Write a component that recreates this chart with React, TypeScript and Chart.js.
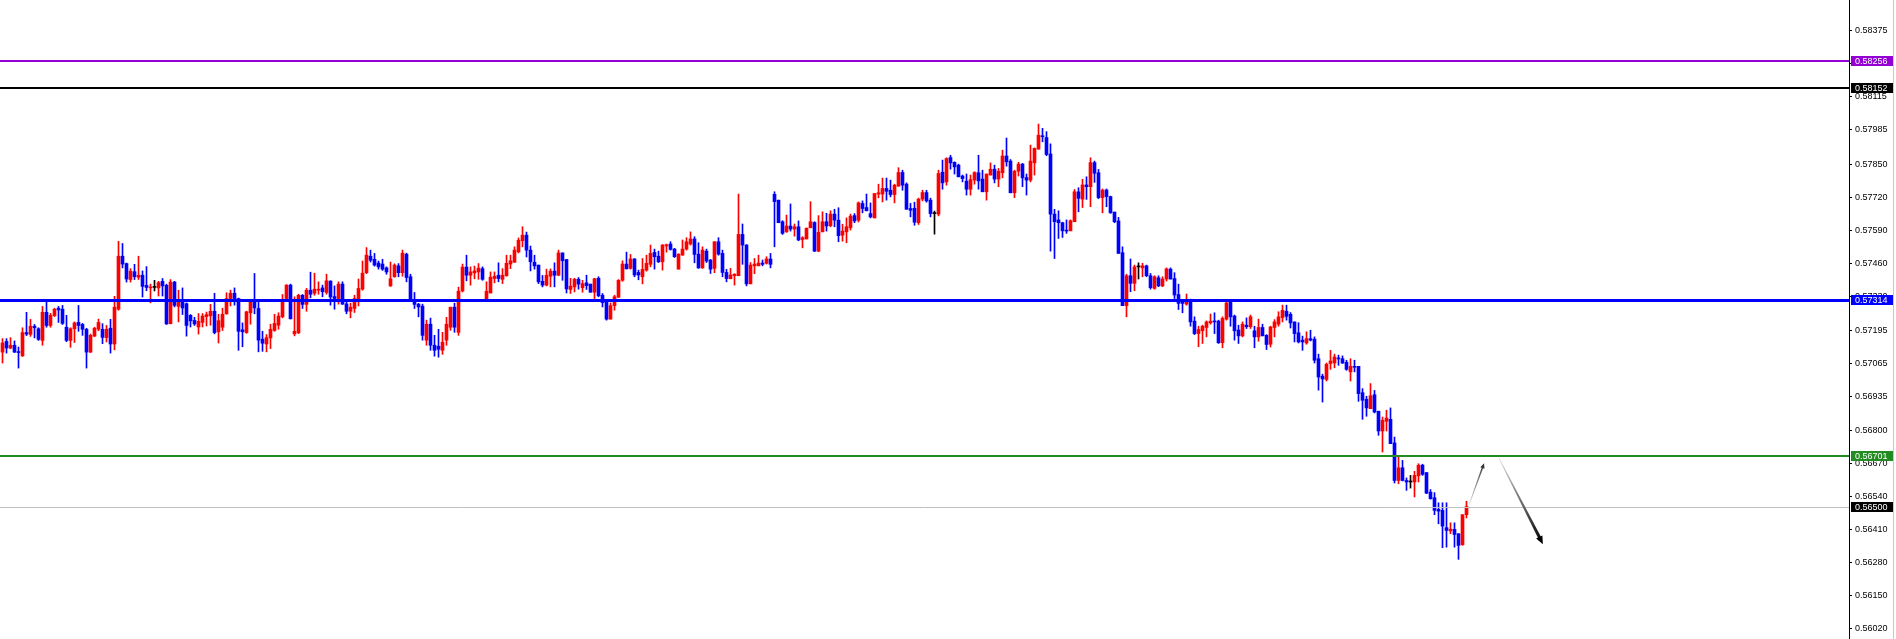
import { useEffect, useRef } from 'react';
import { Chart, registerables } from 'chart.js';

Chart.register(...registerables);

// ---- candle data (price values) ----
const opens = [
  0.57109,0.57151,0.57125,0.57136,0.57111,0.57094,0.57186,0.57179,0.57211,0.57201,
  0.57155,0.57266,0.57214,0.57253,0.57282,0.57278,0.57207,0.57155,0.57201,0.57226,
  0.57218,0.57199,0.57109,0.57172,0.57199,0.57199,0.57166,0.57203,0.57141,0.57278,
  0.57487,0.57458,0.57395,0.57426,0.57404,0.57412,0.57372,0.57362,0.57364,0.57362,
  0.57388,0.57372,0.57221,0.57385,0.57289,0.57307,0.57300,0.57254,0.57234,0.57208,
  0.57226,0.57249,0.57252,0.57270,0.57189,0.57207,0.57260,0.57320,0.57341,0.57320,
  0.57197,0.57186,0.57264,0.57310,0.57281,0.57160,0.57141,0.57165,0.57194,0.57215,
  0.57248,0.57320,0.57373,0.57181,0.57185,0.57333,0.57297,0.57353,0.57341,0.57353,
  0.57362,0.57344,0.57389,0.57328,0.57320,0.57377,0.57299,0.57270,0.57281,0.57318,
  0.57357,0.57422,0.57487,0.57475,0.57460,0.57456,0.57441,0.57370,0.57406,0.57449,
  0.57422,0.57495,0.57406,0.57314,0.57298,0.57290,0.57156,0.57219,0.57136,0.57132,
  0.57116,0.57156,0.57207,0.57286,0.57187,0.57350,0.57444,0.57412,0.57421,0.57425,
  0.57438,0.57319,0.57342,0.57399,0.57412,0.57396,0.57410,0.57456,0.57463,0.57504,
  0.57548,0.57570,0.57511,0.57463,0.57452,0.57388,0.57373,0.57408,0.57428,0.57412,
  0.57500,0.57474,0.57356,0.57366,0.57396,0.57363,0.57382,0.57377,0.57345,0.57400,
  0.57333,0.57307,0.57239,0.57292,0.57325,0.57392,0.57456,0.57439,0.57476,0.57423,
  0.57406,0.57432,0.57455,0.57502,0.57487,0.57465,0.57527,0.57535,0.57515,0.57436,
  0.57491,0.57515,0.57535,0.57555,0.57495,0.57441,0.57507,0.57472,0.57439,0.57544,
  0.57498,0.57423,0.57398,0.57410,0.57410,0.57573,0.57531,0.57378,0.57449,0.57449,
  0.57460,0.57459,0.57476,0.57731,0.57708,0.57623,0.57583,0.57606,0.57594,0.57603,
  0.57553,0.57555,0.57599,0.57620,0.57507,0.57583,0.57623,0.57607,0.57653,0.57629,
  0.57570,0.57583,0.57599,0.57647,0.57629,0.57695,0.57679,0.57655,0.57638,0.57732,
  0.57732,0.57754,0.57747,0.57730,0.57763,0.57817,0.57771,0.57675,0.57676,0.57619,
  0.57712,0.57738,0.57708,0.57655,0.57653,0.57818,0.57780,0.57876,0.57857,0.57846,
  0.57803,0.57783,0.57751,0.57787,0.57816,0.57791,0.57741,0.57807,0.57830,0.57791,
  0.57816,0.57882,0.57862,0.57737,0.57822,0.57850,0.57797,0.57787,0.57855,0.57909,
  0.57962,0.57955,0.57890,0.57653,0.57630,0.57619,0.57590,0.57587,0.57623,0.57741,
  0.57712,0.57768,0.57761,0.57856,0.57816,0.57718,0.57748,0.57722,0.57661,0.57626,
  0.57501,0.57292,0.57410,0.57380,0.57445,0.57441,0.57449,0.57410,0.57360,0.57402,
  0.57370,0.57397,0.57436,0.57399,0.57336,0.57307,0.57298,0.57314,0.57231,0.57182,
  0.57193,0.57206,0.57224,0.57231,0.57231,0.57146,0.57239,0.57307,0.57251,0.57196,
  0.57173,0.57215,0.57209,0.57193,0.57169,0.57206,0.57175,0.57140,0.57206,0.57219,
  0.57245,0.57270,0.57258,0.57228,0.57185,0.57156,0.57145,0.57162,0.57160,0.57083,
  0.57014,0.57001,0.57064,0.57066,0.57086,0.57083,0.57069,0.57031,0.57053,0.57053,
  0.56949,0.56923,0.56886,0.56941,0.56876,0.56798,0.56836,0.56844,0.56751,0.56603,
  0.56653,0.56603,0.56597,0.56597,0.56621,0.56663,0.56634,0.56557,0.56535,0.56489,
  0.56485,0.56417,0.56404,0.56410,0.56393,0.56350,0.56468,
];

const highs = [
  0.57162,0.57162,0.57166,0.57153,0.57129,0.57205,0.57266,0.57238,0.57218,0.57205,
  0.57289,0.57309,0.57262,0.57282,0.57289,0.57293,0.57254,0.57205,0.57228,0.57293,
  0.57222,0.57203,0.57180,0.57207,0.57239,0.57221,0.57214,0.57238,0.57329,0.57546,
  0.57537,0.57460,0.57438,0.57455,0.57487,0.57429,0.57446,0.57377,0.57392,0.57388,
  0.57399,0.57377,0.57395,0.57388,0.57353,0.57362,0.57303,0.57257,0.57246,0.57261,
  0.57261,0.57267,0.57297,0.57341,0.57258,0.57282,0.57343,0.57353,0.57362,0.57322,
  0.57224,0.57270,0.57314,0.57419,0.57314,0.57191,0.57178,0.57219,0.57258,0.57264,
  0.57336,0.57375,0.57377,0.57327,0.57337,0.57336,0.57360,0.57424,0.57420,0.57386,
  0.57373,0.57416,0.57390,0.57370,0.57386,0.57386,0.57307,0.57302,0.57333,0.57397,
  0.57468,0.57521,0.57511,0.57498,0.57468,0.57475,0.57445,0.57464,0.57457,0.57458,
  0.57511,0.57499,0.57416,0.57344,0.57301,0.57298,0.57235,0.57243,0.57175,0.57199,
  0.57187,0.57246,0.57286,0.57302,0.57365,0.57456,0.57491,0.57445,0.57448,0.57458,
  0.57445,0.57386,0.57425,0.57425,0.57461,0.57438,0.57491,0.57491,0.57524,0.57559,
  0.57603,0.57582,0.57527,0.57491,0.57452,0.57411,0.57436,0.57437,0.57461,0.57511,
  0.57500,0.57474,0.57400,0.57400,0.57403,0.57392,0.57412,0.57377,0.57400,0.57406,
  0.57340,0.57310,0.57303,0.57333,0.57395,0.57469,0.57503,0.57494,0.57478,0.57432,
  0.57478,0.57491,0.57531,0.57515,0.57507,0.57533,0.57535,0.57544,0.57518,0.57497,
  0.57551,0.57560,0.57583,0.57564,0.57540,0.57524,0.57515,0.57474,0.57544,0.57560,
  0.57511,0.57435,0.57439,0.57418,0.57732,0.57614,0.57533,0.57462,0.57478,0.57491,
  0.57472,0.57485,0.57498,0.57741,0.57708,0.57627,0.57649,0.57693,0.57614,0.57626,
  0.57564,0.57599,0.57702,0.57623,0.57647,0.57662,0.57656,0.57666,0.57672,0.57678,
  0.57613,0.57638,0.57653,0.57655,0.57701,0.57705,0.57732,0.57697,0.57734,0.57771,
  0.57795,0.57795,0.57787,0.57771,0.57836,0.57826,0.57776,0.57695,0.57700,0.57716,
  0.57747,0.57747,0.57716,0.57665,0.57826,0.57866,0.57875,0.57885,0.57859,0.57850,
  0.57807,0.57811,0.57807,0.57820,0.57885,0.57826,0.57811,0.57855,0.57846,0.57833,
  0.57905,0.57953,0.57868,0.57826,0.57857,0.57853,0.57811,0.57925,0.57914,0.58008,
  0.57991,0.57978,0.57930,0.57672,0.57666,0.57621,0.57630,0.57630,0.57750,0.57757,
  0.57790,0.57800,0.57875,0.57862,0.57829,0.57752,0.57752,0.57724,0.57661,0.57640,
  0.57524,0.57416,0.57476,0.57452,0.57461,0.57459,0.57452,0.57419,0.57410,0.57410,
  0.57406,0.57441,0.57441,0.57422,0.57377,0.57314,0.57338,0.57318,0.57248,0.57211,
  0.57215,0.57232,0.57259,0.57264,0.57235,0.57248,0.57311,0.57314,0.57255,0.57215,
  0.57228,0.57244,0.57255,0.57211,0.57239,0.57219,0.57178,0.57211,0.57237,0.57268,
  0.57294,0.57294,0.57265,0.57228,0.57225,0.57172,0.57189,0.57195,0.57169,0.57101,
  0.57022,0.57066,0.57116,0.57101,0.57097,0.57094,0.57077,0.57083,0.57077,0.57053,
  0.56965,0.56935,0.56985,0.56958,0.56876,0.56853,0.56880,0.56889,0.56774,0.56699,
  0.56682,0.56613,0.56623,0.56639,0.56669,0.56667,0.56634,0.56567,0.56555,0.56515,
  0.56515,0.56515,0.56436,0.56436,0.56393,0.56468,0.56521,
];

const lows = [
  0.57066,0.57105,0.57122,0.57107,0.57046,0.57092,0.57174,0.57171,0.57165,0.57155,
  0.57136,0.57207,0.57207,0.57249,0.57226,0.57218,0.57150,0.57128,0.57147,0.57191,
  0.57175,0.57046,0.57107,0.57170,0.57193,0.57142,0.57149,0.57105,0.57118,0.57274,
  0.57441,0.57385,0.57385,0.57395,0.57395,0.57326,0.57351,0.57303,0.57350,0.57330,
  0.57330,0.57218,0.57220,0.57287,0.57228,0.57257,0.57172,0.57208,0.57214,0.57180,
  0.57208,0.57212,0.57215,0.57181,0.57145,0.57194,0.57258,0.57291,0.57294,0.57116,
  0.57130,0.57183,0.57219,0.57260,0.57110,0.57112,0.57110,0.57123,0.57191,0.57199,
  0.57244,0.57318,0.57240,0.57173,0.57182,0.57281,0.57270,0.57323,0.57333,0.57337,
  0.57327,0.57337,0.57294,0.57278,0.57298,0.57297,0.57260,0.57244,0.57265,0.57291,
  0.57353,0.57418,0.57464,0.57448,0.57436,0.57431,0.57416,0.57368,0.57404,0.57406,
  0.57408,0.57386,0.57310,0.57281,0.57248,0.57156,0.57136,0.57116,0.57093,0.57089,
  0.57100,0.57136,0.57195,0.57187,0.57175,0.57346,0.57390,0.57373,0.57398,0.57396,
  0.57392,0.57319,0.57342,0.57382,0.57386,0.57379,0.57408,0.57438,0.57463,0.57500,
  0.57524,0.57484,0.57429,0.57436,0.57379,0.57366,0.57370,0.57366,0.57366,0.57410,
  0.57392,0.57342,0.57340,0.57346,0.57357,0.57345,0.57356,0.57345,0.57320,0.57327,
  0.57287,0.57235,0.57239,0.57274,0.57325,0.57388,0.57437,0.57436,0.57406,0.57394,
  0.57378,0.57428,0.57445,0.57436,0.57462,0.57432,0.57503,0.57511,0.57482,0.57436,
  0.57491,0.57511,0.57531,0.57461,0.57439,0.57439,0.57462,0.57419,0.57422,0.57491,
  0.57406,0.57386,0.57398,0.57373,0.57410,0.57455,0.57370,0.57378,0.57418,0.57449,
  0.57449,0.57456,0.57441,0.57524,0.57619,0.57573,0.57581,0.57586,0.57566,0.57548,
  0.57520,0.57555,0.57599,0.57505,0.57505,0.57583,0.57586,0.57603,0.57603,0.57544,
  0.57546,0.57540,0.57590,0.57619,0.57622,0.57658,0.57666,0.57638,0.57638,0.57717,
  0.57701,0.57708,0.57721,0.57697,0.57763,0.57747,0.57672,0.57642,0.57609,0.57612,
  0.57705,0.57700,0.57642,0.57574,0.57646,0.57751,0.57767,0.57830,0.57811,0.57800,
  0.57780,0.57728,0.57728,0.57771,0.57751,0.57741,0.57708,0.57807,0.57776,0.57761,
  0.57796,0.57842,0.57737,0.57718,0.57803,0.57761,0.57728,0.57780,0.57807,0.57909,
  0.57938,0.57883,0.57507,0.57478,0.57557,0.57561,0.57577,0.57587,0.57623,0.57662,
  0.57679,0.57711,0.57682,0.57778,0.57714,0.57658,0.57682,0.57656,0.57619,0.57498,
  0.57292,0.57248,0.57347,0.57351,0.57397,0.57406,0.57406,0.57357,0.57357,0.57367,
  0.57367,0.57389,0.57397,0.57320,0.57277,0.57264,0.57294,0.57211,0.57178,0.57130,
  0.57143,0.57169,0.57219,0.57182,0.57143,0.57126,0.57235,0.57211,0.57156,0.57143,
  0.57169,0.57202,0.57202,0.57126,0.57152,0.57173,0.57119,0.57129,0.57169,0.57211,
  0.57228,0.57235,0.57204,0.57149,0.57145,0.57116,0.57140,0.57153,0.57066,0.56959,
  0.56912,0.56995,0.57041,0.57047,0.57057,0.57064,0.57037,0.56995,0.57031,0.56915,
  0.56844,0.56856,0.56886,0.56869,0.56781,0.56715,0.56798,0.56748,0.56593,0.56590,
  0.56601,0.56564,0.56573,0.56538,0.56597,0.56623,0.56551,0.56529,0.56468,0.56432,
  0.56338,0.56340,0.56393,0.56340,0.56292,0.56347,0.56455,
];

const closes = [
  0.57145,0.57125,0.57136,0.57109,0.57107,0.57186,0.57180,0.57211,0.57205,0.57159,
  0.57266,0.57214,0.57254,0.57278,0.57275,0.57222,0.57155,0.57201,0.57224,0.57214,
  0.57199,0.57109,0.57175,0.57203,0.57226,0.57167,0.57199,0.57141,0.57286,0.57487,
  0.57456,0.57397,0.57428,0.57406,0.57412,0.57368,0.57364,0.57366,0.57364,0.57383,
  0.57370,0.57220,0.57385,0.57293,0.57307,0.57283,0.57214,0.57232,0.57220,0.57230,
  0.57251,0.57257,0.57270,0.57186,0.57233,0.57258,0.57320,0.57341,0.57320,0.57191,
  0.57189,0.57268,0.57311,0.57283,0.57156,0.57144,0.57166,0.57199,0.57222,0.57251,
  0.57314,0.57373,0.57240,0.57191,0.57333,0.57297,0.57353,0.57337,0.57357,0.57357,
  0.57347,0.57390,0.57326,0.57320,0.57377,0.57298,0.57270,0.57286,0.57320,0.57360,
  0.57420,0.57491,0.57471,0.57452,0.57445,0.57436,0.57425,0.57398,0.57452,0.57422,
  0.57499,0.57403,0.57312,0.57297,0.57287,0.57175,0.57219,0.57136,0.57116,0.57120,
  0.57148,0.57219,0.57286,0.57207,0.57349,0.57444,0.57412,0.57425,0.57429,0.57440,
  0.57396,0.57349,0.57404,0.57408,0.57399,0.57412,0.57459,0.57469,0.57511,0.57550,
  0.57570,0.57511,0.57465,0.57449,0.57386,0.57373,0.57412,0.57428,0.57412,0.57500,
  0.57469,0.57358,0.57369,0.57396,0.57377,0.57379,0.57371,0.57345,0.57398,0.57331,
  0.57304,0.57239,0.57292,0.57327,0.57392,0.57456,0.57437,0.57476,0.57413,0.57413,
  0.57435,0.57459,0.57498,0.57485,0.57465,0.57531,0.57532,0.57514,0.57485,0.57495,
  0.57515,0.57544,0.57555,0.57494,0.57441,0.57511,0.57468,0.57436,0.57544,0.57495,
  0.57423,0.57399,0.57413,0.57416,0.57573,0.57531,0.57378,0.57452,0.57456,0.57460,
  0.57455,0.57476,0.57455,0.57702,0.57619,0.57577,0.57606,0.57594,0.57603,0.57551,
  0.57560,0.57597,0.57623,0.57507,0.57581,0.57623,0.57606,0.57653,0.57629,0.57568,
  0.57586,0.57603,0.57645,0.57626,0.57697,0.57675,0.57666,0.57642,0.57734,0.57737,
  0.57754,0.57743,0.57730,0.57767,0.57817,0.57767,0.57672,0.57668,0.57621,0.57712,
  0.57738,0.57705,0.57655,0.57655,0.57813,0.57776,0.57872,0.57855,0.57839,0.57800,
  0.57793,0.57751,0.57789,0.57817,0.57784,0.57741,0.57811,0.57830,0.57791,0.57822,
  0.57882,0.57859,0.57737,0.57822,0.57850,0.57796,0.57787,0.57862,0.57912,0.57964,
  0.57958,0.57888,0.57653,0.57623,0.57619,0.57587,0.57586,0.57627,0.57741,0.57715,
  0.57768,0.57761,0.57856,0.57814,0.57718,0.57748,0.57722,0.57658,0.57623,0.57498,
  0.57292,0.57410,0.57380,0.57445,0.57445,0.57449,0.57410,0.57363,0.57406,0.57370,
  0.57397,0.57437,0.57397,0.57334,0.57301,0.57301,0.57314,0.57228,0.57182,0.57198,
  0.57211,0.57228,0.57231,0.57228,0.57146,0.57242,0.57303,0.57248,0.57193,0.57173,
  0.57219,0.57209,0.57248,0.57169,0.57206,0.57173,0.57139,0.57208,0.57228,0.57248,
  0.57274,0.57250,0.57224,0.57182,0.57149,0.57149,0.57162,0.57156,0.57077,0.57011,
  0.57003,0.57061,0.57074,0.57090,0.57082,0.57066,0.57041,0.57053,0.57049,0.56945,
  0.56919,0.56889,0.56937,0.56873,0.56798,0.56840,0.56849,0.56748,0.56603,0.56653,
  0.56603,0.56597,0.56597,0.56623,0.56663,0.56627,0.56553,0.56531,0.56485,0.56482,
  0.56423,0.56406,0.56411,0.56390,0.56347,0.56468,0.56500,
];

// ---- axis ticks, horizontal levels, arrows ----
const yTickValues = [
  0.58375, 0.58245, 0.58115, 0.57985, 0.5785, 0.5772, 0.5759, 0.5746, 0.5733, 0.57195,
  0.57065, 0.56935, 0.568, 0.5667, 0.5654, 0.5641, 0.5628, 0.5615, 0.5602,
];
const levelValues = [0.58256, 0.58152, 0.57314, 0.56701, 0.565];
const levelLineColors = ['#9400D3', '#000000', '#0000FF', '#228B22', '#C0C0C0'];
const levelLineWidths = [2, 2, 3, 2, 1];
const levelLabelColors = ['#9400D3', '#000000', '#0000FF', '#228B22', '#000000'];

const arrowUpX = [366.6, 370.4];
const arrowUpY = [0.56506, 0.56671];
const arrowDownX = [374.1, 385.1];
const arrowDownY = [0.56691, 0.56352];

const Y_MIN = 0.55978;
const Y_MAX = 0.58497;
const X_MIN = -0.625;
const X_MAX = 461.625;
const AXIS_W = 47;

const candleColor = (i: number) =>
  closes[i] > opens[i] ? '#FF0000' : closes[i] < opens[i] ? '#0000FF' : '#000000';

function drawArrow(
  chart: any, xs: number[], ys: number[],
  c0: string, c1: string, w0: number, w1: number, headLen: number, headHalf: number
) {
  const { ctx, scales } = chart;
  const x0 = scales.x.getPixelForValue(xs[0]);
  const y0 = scales.y.getPixelForValue(ys[0]);
  const x1 = scales.x.getPixelForValue(xs[1]);
  const y1 = scales.y.getPixelForValue(ys[1]);
  const len = Math.hypot(x1 - x0, y1 - y0);
  const ux = (x1 - x0) / len;
  const uy = (y1 - y0) / len;
  const nx = -uy;
  const ny = ux;
  const g = ctx.createLinearGradient(x0, y0, x1, y1);
  g.addColorStop(0, c0);
  g.addColorStop(1, c1);
  // shaft (tapered)
  const bx = x1 - ux * headLen * 0.6;
  const by = y1 - uy * headLen * 0.6;
  ctx.fillStyle = g;
  ctx.beginPath();
  ctx.moveTo(x0 + nx * w0 / 2, y0 + ny * w0 / 2);
  ctx.lineTo(bx + nx * w1 / 2, by + ny * w1 / 2);
  ctx.lineTo(bx - nx * w1 / 2, by - ny * w1 / 2);
  ctx.lineTo(x0 - nx * w0 / 2, y0 - ny * w0 / 2);
  ctx.closePath();
  ctx.fill();
  // head
  const hx = x1 - ux * headLen;
  const hy = y1 - uy * headLen;
  ctx.fillStyle = c1;
  ctx.beginPath();
  ctx.moveTo(x1, y1);
  ctx.lineTo(hx + nx * headHalf, hy + ny * headHalf);
  ctx.lineTo(hx - nx * headHalf, hy - ny * headHalf);
  ctx.closePath();
  ctx.fill();
}

const levelsPlugin = {
  id: 'levels',
  afterDatasetsDraw(chart: any) {
    const { ctx, chartArea, scales } = chart;
    const y = scales.y;
    ctx.save();
    levelValues.forEach((v, k) => {
      const w = levelLineWidths[k];
      const py = Math.round(y.getPixelForValue(v)) + (w % 2 ? 0.5 : 0);
      ctx.strokeStyle = levelLineColors[k];
      ctx.lineWidth = w;
      ctx.beginPath();
      ctx.moveTo(chartArea.left, py);
      ctx.lineTo(chartArea.right, py);
      ctx.stroke();
    });
    drawArrow(chart, arrowUpX, arrowUpY, '#E6E6E6', '#333333', 0.8, 1.6, 5, 2.2);
    drawArrow(chart, arrowDownX, arrowDownY, '#DDDDDD', '#000000', 0.8, 3.2, 8, 3.5);
    ctx.restore();
  },
  afterDraw(chart: any) {
    const { ctx, chartArea, scales, width } = chart;
    const y = scales.y;
    ctx.save();
    ctx.font = '9px "Liberation Sans", Arial, sans-serif';
    ctx.textBaseline = 'middle';
    ctx.textAlign = 'left';
    levelValues.forEach((v, k) => {
      const py = Math.round(y.getPixelForValue(v));
      ctx.fillStyle = levelLabelColors[k];
      ctx.fillRect(chartArea.right + 2, py - 5, 42, 10);
      ctx.fillStyle = '#FFFFFF';
      ctx.fillText(v.toFixed(5), chartArea.right + 6, py + 0.5);
    });
    ctx.fillStyle = '#C8C8C8';
    ctx.fillRect(width - 3, 0, 1, chart.height);
    ctx.restore();
  },
};

export default function App() {
  const canvasRef = useRef<HTMLCanvasElement>(null);

  useEffect(() => {
    const canvas = canvasRef.current;
    if (!canvas) return;
    const colors = opens.map((_, i) => candleColor(i));

    const chart = new Chart(canvas, {
      type: 'bar',
      data: {
        datasets: [
          {
            label: 'bodies',
            data: opens.map((o, i) => ({ x: i, y: [o, closes[i]] })) as any,
            backgroundColor: colors,
            barThickness: 3,
            minBarLength: 1,
            grouped: false,
            borderWidth: 0,
            order: 1,
          } as any,
          {
            label: 'wicks',
            data: opens.map((_, i) => ({ x: i, y: [lows[i], highs[i]] })) as any,
            backgroundColor: colors,
            barThickness: 1,
            grouped: false,
            borderWidth: 0,
            order: 2,
          } as any,
        ],
      },
      options: {
        animation: false,
        responsive: false,
        devicePixelRatio: 1,
        events: [],
        layout: { padding: 0, autoPadding: false },
        plugins: {
          legend: { display: false },
          tooltip: { enabled: false },
        },
        scales: {
          x: {
            type: 'linear',
            min: X_MIN,
            max: X_MAX,
            offset: false,
            display: false,
            ticks: { display: false },
            afterFit: (s: any) => {
              s.paddingLeft = 0;
              s.paddingRight = 0;
              s.height = 0;
            },
          },
          y: {
            type: 'linear',
            position: 'right',
            min: Y_MIN,
            max: Y_MAX,
            afterBuildTicks: (s: any) => {
              s.ticks = yTickValues.map((v) => ({ value: v }));
            },
            afterFit: (s: any) => {
              s.width = AXIS_W;
              s.paddingTop = 0;
              s.paddingBottom = 0;
            },
            grid: {
              drawOnChartArea: false,
              drawTicks: true,
              tickLength: 3,
              color: '#000000',
              lineWidth: 1,
            },
            border: { display: true, color: '#000000', width: 1 },
            ticks: {
              autoSkip: false,
              padding: 3,
              color: '#000000',
              font: { family: '"Liberation Sans", Arial, sans-serif', size: 9 },
              callback: (v: any) => Number(v).toFixed(5),
            },
          },
        },
      } as any,
      plugins: [levelsPlugin],
    });

    return () => chart.destroy();
  }, []);

  return (
    <div style={{ position: 'fixed', left: 0, top: 0, width: 1896, height: 639, background: '#FFFFFF' }}>
      <canvas ref={canvasRef} width={1896} height={639} style={{ display: 'block', width: 1896, height: 639 }} />
    </div>
  );
}
